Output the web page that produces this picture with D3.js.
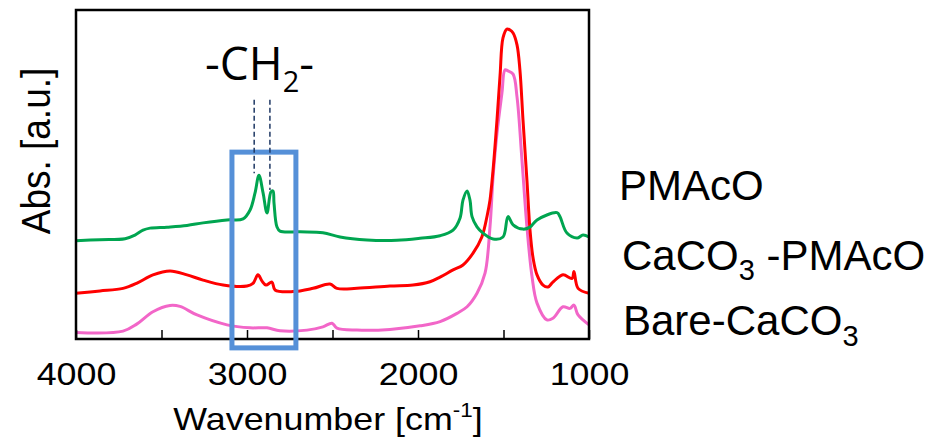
<!DOCTYPE html>
<html>
<head>
<meta charset="utf-8">
<title>FT-IR spectra</title>
<script src="https://cdn.jsdelivr.net/npm/d3@7"></script>
<style>
	body { margin: 0; background: #fff; overflow: hidden; }
	text { font-family: "Liberation Sans", Arial, sans-serif; fill: #000; }
</style>
</head>
<body>
<script>

	// spectra (wavenumber in cm-1, absorbance in a.u.)
	const pmacoWn  = [4000, 3860, 3713, 3655, 3608, 3567, 3468, 3351, 3257, 3117, 3023, 2982, 2953, 2930, 2906, 2883, 2860, 2848, 2842, 2825, 2807, 2690, 2556, 2456, 2298, 2123, 1988, 1871, 1795, 1754, 1737, 1713, 1696, 1684, 1655, 1620, 1561, 1503, 1474, 1444, 1386, 1345, 1304, 1187, 1170, 1129, 1070, 1035, 1000];
	const pmacoAbs = [0.299, 0.302, 0.305, 0.316, 0.331, 0.337, 0.340, 0.345, 0.353, 0.362, 0.365, 0.392, 0.444, 0.498, 0.444, 0.383, 0.447, 0.450, 0.413, 0.341, 0.328, 0.326, 0.323, 0.310, 0.301, 0.300, 0.306, 0.314, 0.331, 0.368, 0.422, 0.450, 0.422, 0.372, 0.341, 0.322, 0.304, 0.310, 0.372, 0.347, 0.334, 0.340, 0.362, 0.384, 0.372, 0.322, 0.307, 0.316, 0.310];

	const hybridWn  = [4000, 3860, 3725, 3643, 3550, 3450, 3351, 3257, 3140, 3000, 2965, 2936, 2912, 2889, 2854, 2836, 2731, 2614, 2515, 2474, 2357, 2164, 2029, 1930, 1871, 1795, 1737, 1678, 1626, 1596, 1579, 1561, 1538, 1520, 1503, 1480, 1462, 1444, 1421, 1404, 1386, 1363, 1345, 1327, 1304, 1269, 1240, 1211, 1152, 1099, 1088, 1064, 1000];
	const hybridAbs = [0.139, 0.146, 0.154, 0.170, 0.195, 0.207, 0.195, 0.179, 0.164, 0.161, 0.169, 0.195, 0.176, 0.164, 0.173, 0.149, 0.144, 0.154, 0.167, 0.154, 0.154, 0.161, 0.164, 0.174, 0.188, 0.210, 0.225, 0.261, 0.311, 0.374, 0.422, 0.514, 0.666, 0.802, 0.915, 0.942, 0.939, 0.930, 0.894, 0.818, 0.666, 0.483, 0.331, 0.246, 0.195, 0.164, 0.158, 0.173, 0.195, 0.184, 0.205, 0.154, 0.139];

	const bareWn  = [4000, 3725, 3643, 3550, 3450, 3392, 3292, 3117, 2982, 2883, 2807, 2649, 2556, 2503, 2474, 2357, 2164, 1988, 1871, 1772, 1713, 1655, 1608, 1579, 1561, 1538, 1509, 1491, 1474, 1444, 1421, 1392, 1363, 1333, 1304, 1246, 1211, 1152, 1111, 1088, 1064, 1000];
	const bareAbs = [0.020, 0.024, 0.046, 0.083, 0.102, 0.099, 0.073, 0.043, 0.034, 0.034, 0.025, 0.027, 0.037, 0.048, 0.033, 0.027, 0.029, 0.040, 0.053, 0.078, 0.098, 0.139, 0.200, 0.341, 0.493, 0.626, 0.748, 0.818, 0.815, 0.805, 0.736, 0.544, 0.341, 0.189, 0.109, 0.058, 0.063, 0.098, 0.093, 0.103, 0.073, 0.043];

	const xTicks = [4000, 3500, 3000, 2500, 2000, 1500, 1000];
	const xDomain = [4000, 1000];
	const yDomain = [0, 1];

	// CH2 stretching marks and highlighted window
	const ch2Lines = [2958, 2866];
	const ch2LineTop = [0.727, 0.727];
	const ch2LineBottom = [0.504, 0.453];
	const boxWn = [3088, 2714];
	const boxAbs = [0.568, -0.027];

	const margin = {top: 10, right: 337, bottom: 102, left: 76};
	const width = 926 - margin.left - margin.right;
	const height = 441 - margin.top - margin.bottom;

	var svg = d3.select('body')
		.append('svg')
		.attr('width', 926)
		.attr('height', 441);

	var g = svg.append('g')
		.attr('transform', `translate(${margin.left},${margin.top})`);

	var x = d3.scaleLinear().domain(xDomain).range([0, width]);
	var y = d3.scaleLinear().domain(yDomain).range([height, 0]);

	var line = d3.line()
		.x(d => x(d[0]))
		.y(d => y(d[1]))
		.curve(d3.curveCatmullRom.alpha(0.5));

	var series = [
		{wn: bareWn, abs: bareAbs, color: '#f266c8'},
		{wn: hybridWn, abs: hybridAbs, color: '#ff0000'},
		{wn: pmacoWn, abs: pmacoAbs, color: '#00a550'}
	];

	series.forEach(s => {
		g.append('path')
			.datum(d3.zip(s.wn, s.abs))
			.attr('d', line)
			.attr('fill', 'none')
			.attr('stroke', s.color)
			.attr('stroke-width', 3)
			.attr('stroke-linejoin', 'round');
	});

	// frame
	g.append('rect')
		.attr('width', width)
		.attr('height', height)
		.attr('fill', 'none')
		.attr('stroke', '#000')
		.attr('stroke-width', 2.5);

	// bottom axis, ticks pointing inwards
	var xAxis = d3.axisBottom(x)
		.tickValues(xTicks)
		.tickSize(-9)
		.tickPadding(23)
		.tickFormat(d => d % 1000 === 0 ? d : '');

	var axisG = g.append('g')
		.attr('transform', `translate(0,${height})`)
		.call(xAxis);
	axisG.select('.domain').remove();
	axisG.selectAll('line').attr('stroke', '#000').attr('stroke-width', 1.5);
	axisG.selectAll('text')
		.attr('font-size', 32)
		.attr('font-family', '"Liberation Sans", Arial, sans-serif')
		.attr('transform', 'scale(1.12,1)');

	// highlight box and dashed marks
	g.append('rect')
		.attr('x', x(boxWn[0]))
		.attr('y', y(boxAbs[0]))
		.attr('width', x(boxWn[1]) - x(boxWn[0]))
		.attr('height', y(boxAbs[1]) - y(boxAbs[0]))
		.attr('fill', 'none')
		.attr('stroke', '#5590d8')
		.attr('stroke-width', 5);

	g.selectAll('.ch2')
		.data(ch2Lines)
		.enter().append('line')
		.attr('class', 'ch2')
		.attr('x1', d => x(d))
		.attr('x2', d => x(d))
		.attr('y1', (d, i) => y(ch2LineTop[i]))
		.attr('y2', (d, i) => y(ch2LineBottom[i]))
		.attr('stroke', '#1f3864')
		.attr('stroke-width', 1.5)
		.attr('stroke-dasharray', '5,3');

	// -CH2- label
	var ch2 = svg.append('text')
		.attr('x', 205)
		.attr('y', 80)
		.attr('font-size', 46)
		.style('font-family', '"Open Sans", sans-serif');
	ch2.append('tspan').text('-CH');
	ch2.append('tspan').attr('dy', 12).attr('font-size', 29).text('2');
	ch2.append('tspan').attr('dy', -12).text('-');

	// axis titles
	var xt = svg.append('text')
		.attr('transform', 'translate(328,430) scale(1.12,1)')
		.attr('text-anchor', 'middle')
		.attr('font-size', 32);
	xt.append('tspan').text('Wavenumber [cm');
	xt.append('tspan').attr('dy', -13).attr('font-size', 20).text('-1');
	xt.append('tspan').attr('dy', 13).text(']');

	svg.append('text')
		.attr('transform', 'translate(50,151) scale(1.12,1) rotate(-90)')
		.attr('text-anchor', 'middle')
		.attr('font-size', 37)
		.text('Abs. [a.u.]');

	// series labels
	svg.append('text')
		.attr('x', 619)
		.attr('y', 200)
		.attr('font-size', 42)
		.text('PMAcO');

	var l2 = svg.append('text')
		.attr('x', 622)
		.attr('y', 270)
		.attr('font-size', 42);
	l2.append('tspan').text('CaCO');
	l2.append('tspan').attr('dy', 10).attr('font-size', 29).text('3');
	l2.append('tspan').attr('dy', -10).text(' -PMAcO');

	var l3 = svg.append('text')
		.attr('x', 623)
		.attr('y', 335)
		.attr('font-size', 42);
	l3.append('tspan').text('Bare-CaCO');
	l3.append('tspan').attr('dy', 11).attr('font-size', 29).text('3');

</script>
</body>
</html>
